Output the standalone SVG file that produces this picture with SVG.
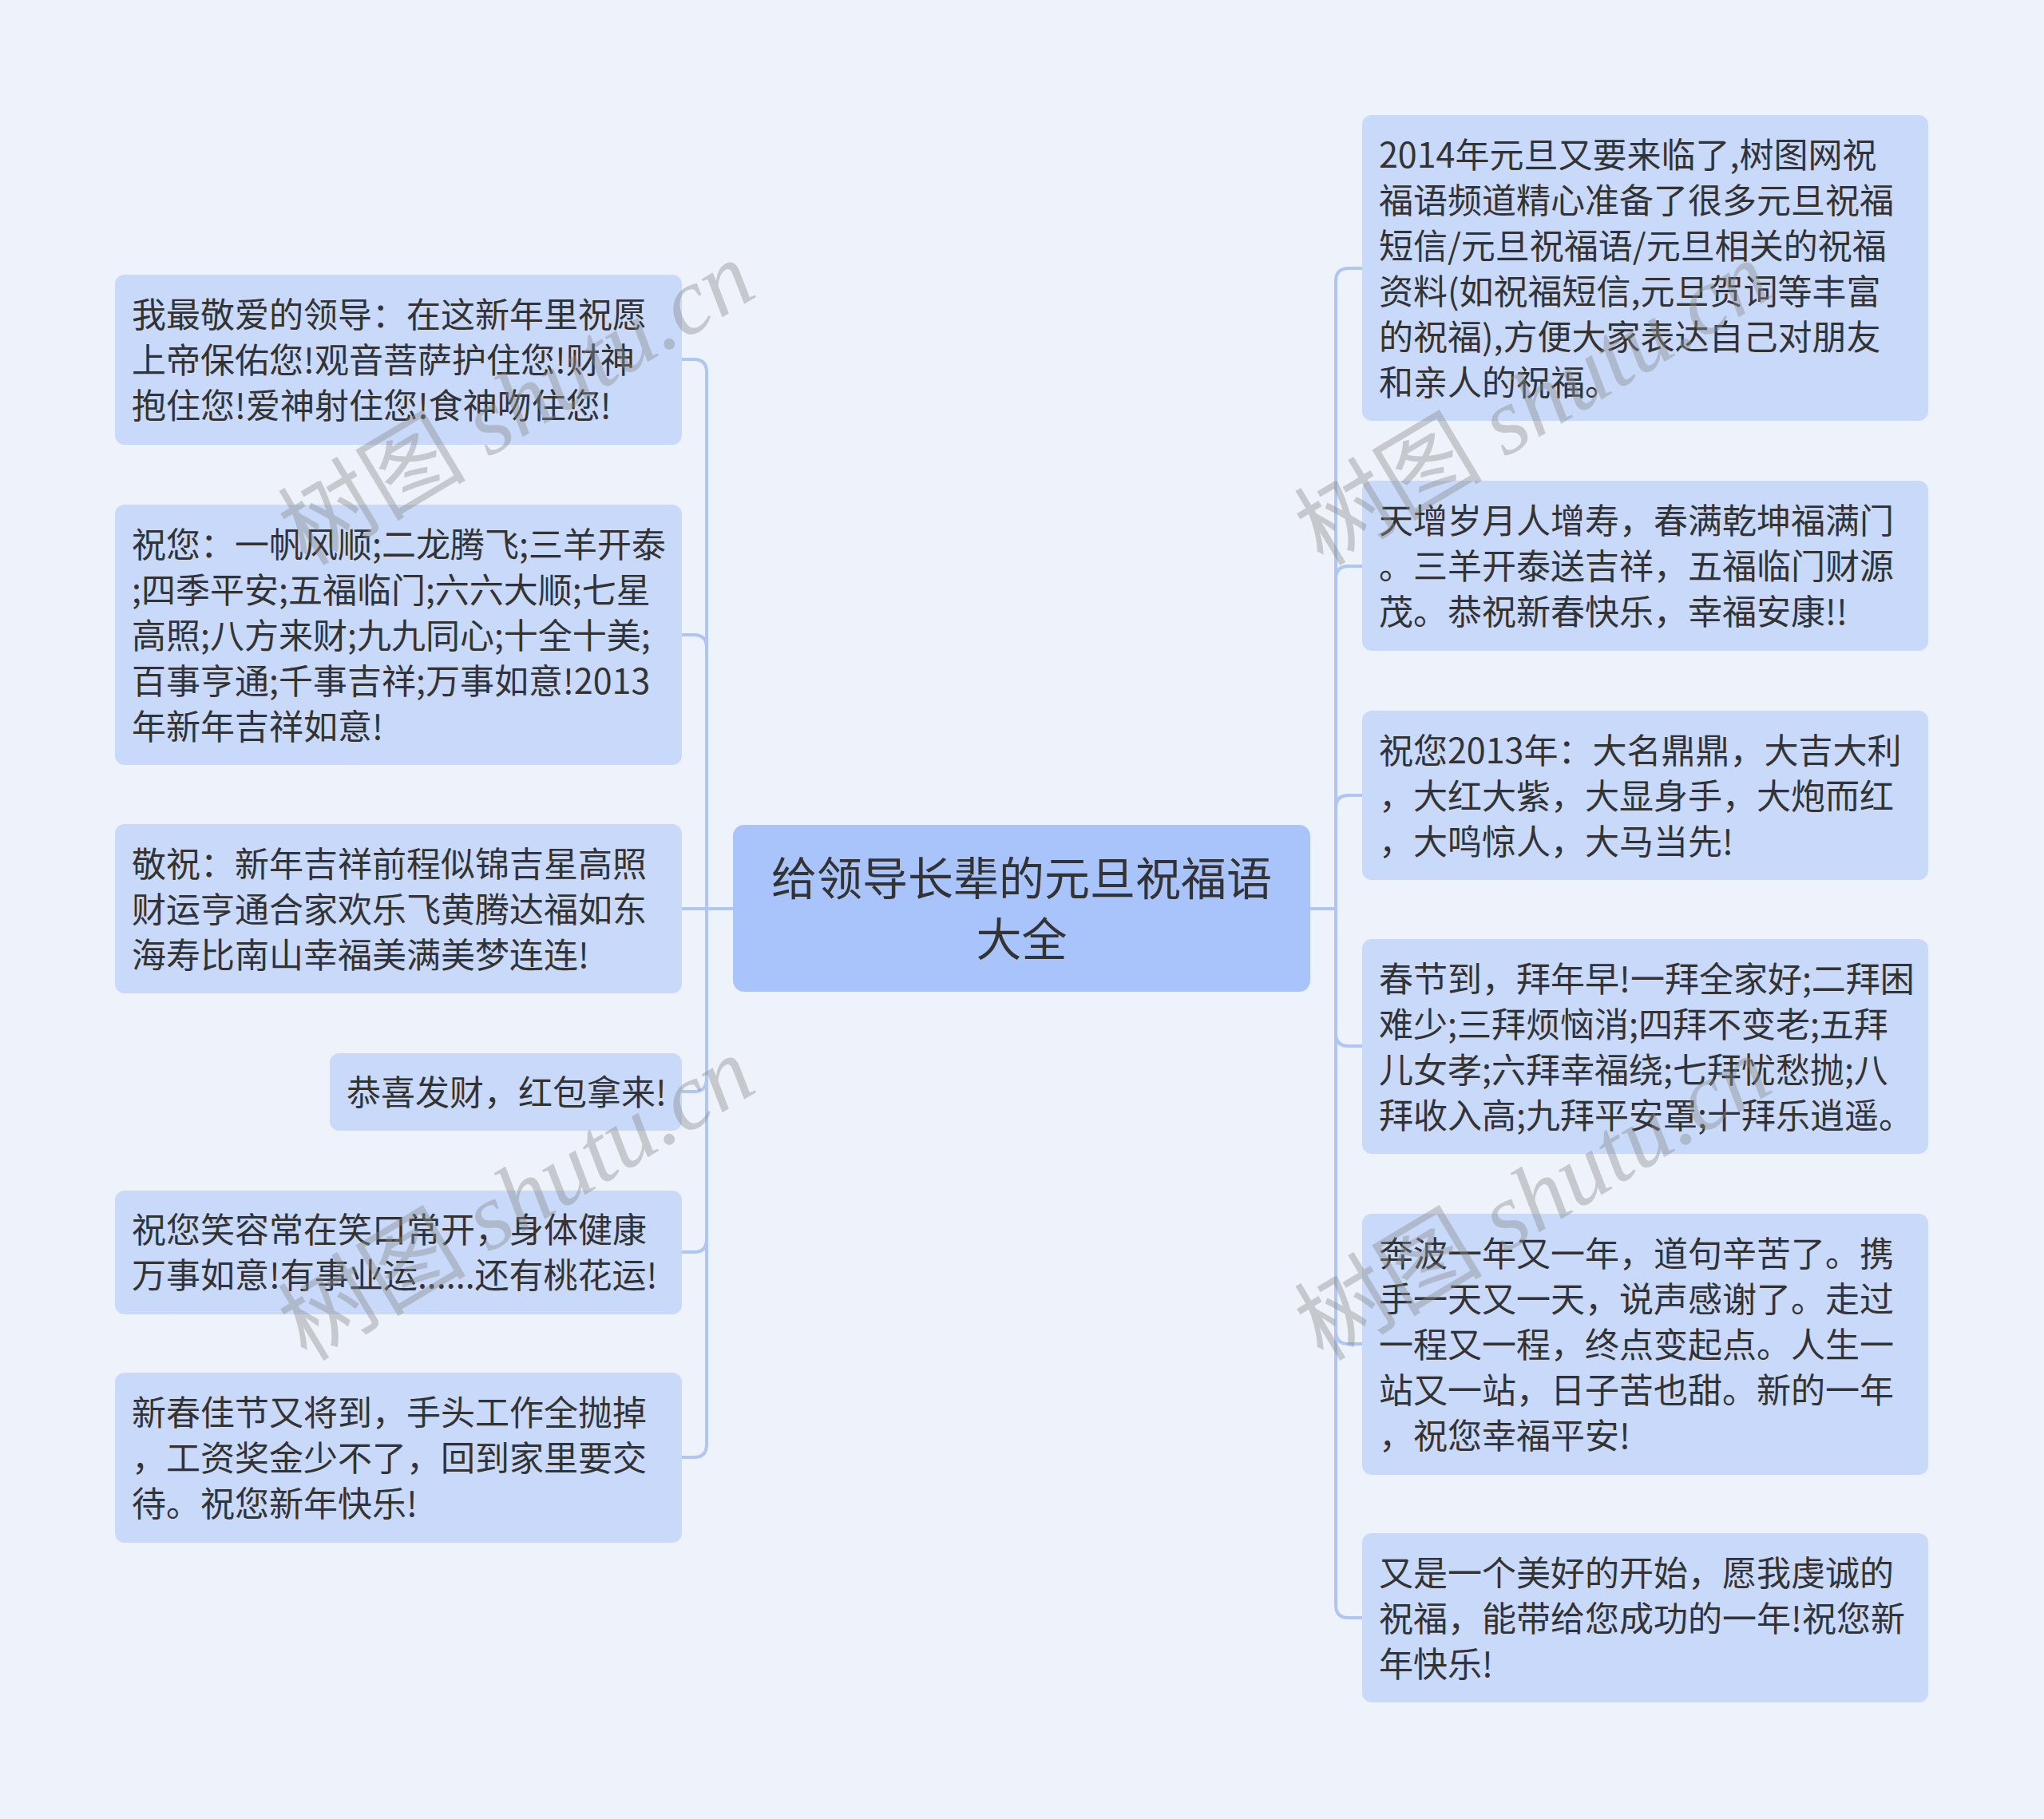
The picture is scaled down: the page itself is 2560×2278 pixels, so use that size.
<svg xmlns="http://www.w3.org/2000/svg" width="2560" height="2278" viewBox="0 0 2560 2278">
<style>
.bg{fill:#eef3fb}
.node{fill:#c9d9fa}
.root{fill:#a9c4fb}
.t{font-family:"Noto Sans CJK SC","Noto Sans",sans-serif;font-size:43px;fill:#333333}
.rt{font-family:"Noto Sans CJK SC","Noto Sans",sans-serif;font-size:57px;fill:#333333;text-anchor:middle}
.c{fill:none;stroke:#afc5f5;stroke-width:4;stroke-linecap:round}
.wm{font-family:"Liberation Serif","Noto Sans CJK SC",serif;font-size:118px;fill:#8c8c8c;fill-opacity:0.42}
.wm tspan.l{font-style:italic}
</style>
<rect class="bg" x="0" y="0" width="2560" height="2278"/>
<g id="connectors">
<path class="c" d="M918 1138 H885"/>
<path class="c" d="M1641 1138 H1673"/>
<path class="c" d="M885 1138 V466 Q885 450 869 450 H854"/>
<path class="c" d="M885 1138 V811 Q885 795 869 795 H854"/>
<path class="c" d="M885 1138 H854"/>
<path class="c" d="M885 1138 V1351 Q885 1367 869 1367 H854"/>
<path class="c" d="M885 1138 V1552 Q885 1568 869 1568 H854"/>
<path class="c" d="M885 1138 V1809 Q885 1825 869 1825 H854"/>
<path class="c" d="M1673 1138 V352 Q1673 336 1689 336 H1706"/>
<path class="c" d="M1673 1138 V725 Q1673 709 1689 709 H1706"/>
<path class="c" d="M1673 1138 V1012 Q1673 996 1689 996 H1706"/>
<path class="c" d="M1673 1138 V1294 Q1673 1310 1689 1310 H1706"/>
<path class="c" d="M1673 1138 V1667 Q1673 1683 1689 1683 H1706"/>
<path class="c" d="M1673 1138 V2010 Q1673 2026 1689 2026 H1706"/>
</g>
<g id="root">
<rect class="root" x="918" y="1033" width="723" height="209" rx="14"/>
<text class="rt" x="1279.5" y="1121">给领导长辈的元旦祝福语</text>
<text class="rt" x="1279.5" y="1197">大全</text>
</g>
<g id="l1">
<rect class="node" x="144" y="344" width="710" height="213" rx="12"/>
<text class="t" x="165" y="409.5">我最敬爱的领导：在这新年里祝愿</text>
<text class="t" x="165" y="466.5">上帝保佑您!观音菩萨护住您!财神</text>
<text class="t" x="165" y="523.5">抱住您!爱神射住您!食神吻住您!</text>
</g>
<g id="l2">
<rect class="node" x="144" y="632" width="710" height="326" rx="12"/>
<text class="t" x="165" y="697.5">祝您：一帆风顺;二龙腾飞;三羊开泰</text>
<text class="t" x="165" y="754.5">;四季平安;五福临门;六六大顺;七星</text>
<text class="t" x="165" y="811.5">高照;八方来财;九九同心;十全十美;</text>
<text class="t" x="165" y="868.5">百事亨通;千事吉祥;万事如意!2013</text>
<text class="t" x="165" y="925.5">年新年吉祥如意!</text>
</g>
<g id="l3">
<rect class="node" x="144" y="1032" width="710" height="212" rx="12"/>
<text class="t" x="165" y="1097.5">敬祝：新年吉祥前程似锦吉星高照</text>
<text class="t" x="165" y="1154.5">财运亨通合家欢乐飞黄腾达福如东</text>
<text class="t" x="165" y="1211.5">海寿比南山幸福美满美梦连连!</text>
</g>
<g id="l4">
<rect class="node" x="413" y="1319" width="441" height="97" rx="12"/>
<text class="t" x="434" y="1383.5">恭喜发财，红包拿来!</text>
</g>
<g id="l5">
<rect class="node" x="144" y="1491" width="710" height="155" rx="12"/>
<text class="t" x="165" y="1555.5">祝您笑容常在笑口常开，身体健康</text>
<text class="t" x="165" y="1612.5">万事如意!有事业运......还有桃花运!</text>
</g>
<g id="l6">
<rect class="node" x="144" y="1719" width="710" height="213" rx="12"/>
<text class="t" x="165" y="1784.5">新春佳节又将到，手头工作全抛掉</text>
<text class="t" x="165" y="1841.5">，工资奖金少不了，回到家里要交</text>
<text class="t" x="165" y="1898.5">待。祝您新年快乐!</text>
</g>
<g id="r1">
<rect class="node" x="1706" y="144" width="709" height="383" rx="12"/>
<text class="t" x="1727" y="209.5">2014年元旦又要来临了,树图网祝</text>
<text class="t" x="1727" y="266.5">福语频道精心准备了很多元旦祝福</text>
<text class="t" x="1727" y="323.5">短信/元旦祝福语/元旦相关的祝福</text>
<text class="t" x="1727" y="380.5">资料(如祝福短信,元旦贺词等丰富</text>
<text class="t" x="1727" y="437.5">的祝福),方便大家表达自己对朋友</text>
<text class="t" x="1727" y="494.5">和亲人的祝福。</text>
</g>
<g id="r2">
<rect class="node" x="1706" y="602" width="709" height="213" rx="12"/>
<text class="t" x="1727" y="667.5">天增岁月人增寿，春满乾坤福满门</text>
<text class="t" x="1727" y="724.5">。三羊开泰送吉祥，五福临门财源</text>
<text class="t" x="1727" y="781.5">茂。恭祝新春快乐，幸福安康!!</text>
</g>
<g id="r3">
<rect class="node" x="1706" y="890" width="709" height="212" rx="12"/>
<text class="t" x="1727" y="955.5">祝您2013年：大名鼎鼎，大吉大利</text>
<text class="t" x="1727" y="1012.5">，大红大紫，大显身手，大炮而红</text>
<text class="t" x="1727" y="1069.5">，大鸣惊人，大马当先!</text>
</g>
<g id="r4">
<rect class="node" x="1706" y="1176" width="709" height="269" rx="12"/>
<text class="t" x="1727" y="1241.5">春节到，拜年早!一拜全家好;二拜困</text>
<text class="t" x="1727" y="1298.5">难少;三拜烦恼消;四拜不变老;五拜</text>
<text class="t" x="1727" y="1355.5">儿女孝;六拜幸福绕;七拜忧愁抛;八</text>
<text class="t" x="1727" y="1412.5">拜收入高;九拜平安罩;十拜乐逍遥。</text>
</g>
<g id="r5">
<rect class="node" x="1706" y="1520" width="709" height="327" rx="12"/>
<text class="t" x="1727" y="1585.5">奔波一年又一年，道句辛苦了。携</text>
<text class="t" x="1727" y="1642.5">手一天又一天，说声感谢了。走过</text>
<text class="t" x="1727" y="1699.5">一程又一程，终点变起点。人生一</text>
<text class="t" x="1727" y="1756.5">站又一站，日子苦也甜。新的一年</text>
<text class="t" x="1727" y="1813.5">，祝您幸福平安!</text>
</g>
<g id="r6">
<rect class="node" x="1706" y="1920" width="709" height="212" rx="12"/>
<text class="t" x="1727" y="1985.5">又是一个美好的开始，愿我虔诚的</text>
<text class="t" x="1727" y="2042.5">祝福，能带给您成功的一年!祝您新</text>
<text class="t" x="1727" y="2099.5">年快乐!</text>
</g>
<g id="watermarks">
<text class="wm" transform="translate(384 710) rotate(-31)">树图 <tspan class="l">shutu.cn</tspan></text>
<text class="wm" transform="translate(1657 710) rotate(-31)">树图 <tspan class="l">shutu.cn</tspan></text>
<text class="wm" transform="translate(384 1706) rotate(-31)">树图 <tspan class="l">shutu.cn</tspan></text>
<text class="wm" transform="translate(1657 1706) rotate(-31)">树图 <tspan class="l">shutu.cn</tspan></text>
</g>
</svg>
